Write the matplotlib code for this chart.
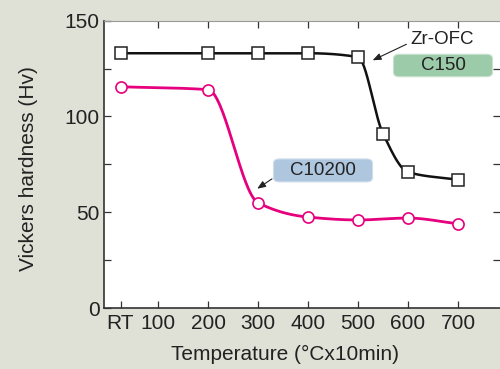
import numpy as np
import matplotlib
matplotlib.use("Agg")
import matplotlib.pyplot as plt
from matplotlib.patches import FancyBboxPatch

plt.rcParams['font.family'] = ['Liberation Sans', 'DejaVu Sans']

# data (RT taken as 25 degC)
temps = [25, 200, 300, 400, 500, 550, 600, 700]
zr_ofc = [133, 133, 133, 133, 131, 91, 71, 67]
temps_c10200 = [25, 200, 300, 400, 500, 600, 700]
c10200 = [115.5, 114, 55, 47.5, 46, 47, 44]

xtick_vals = [25, 100, 200, 300, 400, 500, 600, 700]
xtick_labels = ["RT", "100", "200", "300", "400", "500", "600", "700"]

BG = "#dfe0d6"
PINK = "#e6007e"


def pchip(x, y, xs):
    """Monotone cubic (Fritsch-Carlson) just for drawing a smooth line."""
    x = np.asarray(x, float)
    y = np.asarray(y, float)
    h = np.diff(x)
    d = np.diff(y) / h
    m = np.zeros_like(y)
    for i in range(1, len(y) - 1):
        if d[i - 1] * d[i] > 0:
            w1 = 2 * h[i] + h[i - 1]
            w2 = h[i] + 2 * h[i - 1]
            m[i] = (w1 + w2) / (w1 / d[i - 1] + w2 / d[i])
    m[0] = d[0]
    m[-1] = d[-1]
    idx = np.clip(np.searchsorted(x, xs) - 1, 0, len(h) - 1)
    t = (xs - x[idx]) / h[idx]
    h00 = 2 * t**3 - 3 * t**2 + 1
    h10 = t**3 - 2 * t**2 + t
    h01 = -2 * t**3 + 3 * t**2
    h11 = t**3 - t**2
    return h00 * y[idx] + h10 * h[idx] * m[idx] + h01 * y[idx + 1] + h11 * h[idx] * m[idx + 1]


fig = plt.figure(figsize=(5.0, 3.69), dpi=100, facecolor=BG)
ax = fig.add_axes([0.208, 0.165, 0.792, 0.779])
ax.set_facecolor("white")

xs = np.linspace(25, 700, 400)
ax.plot(xs, pchip(temps, zr_ofc, xs), color="#111111", lw=1.8, zorder=2)
ax.plot(temps, zr_ofc, ls="none", marker="s", ms=8, mfc="white", mec="#222222", mew=1.1, zorder=3)
ax.plot(xs, pchip(temps_c10200, c10200, xs), color=PINK, lw=2.0, zorder=2)
ax.plot(temps_c10200, c10200, ls="none", marker="o", ms=8, mfc="white", mec=PINK, mew=1.2, zorder=3)

ax.set_xlim(-8, 784)
ax.set_ylim(0, 150)
ax.set_xticks(xtick_vals)
ax.set_xticklabels(xtick_labels)
ax.set_yticks([0, 50, 100, 150])
ax.set_yticks([25, 75, 125], minor=True)
ax.tick_params(axis="both", which="both", direction="in", length=5, width=0.9,
               color="#333333", labelsize=15, labelcolor="#222222", pad=3)
ax.tick_params(axis="x", pad=4)

# extra ticks on top and right, no labels
top = ax.secondary_xaxis("top")
top.set_xticks([100, 200, 300, 400, 500, 600, 700])
top.tick_params(direction="in", length=5, width=0.9, color="#333333", labeltop=False)
top.spines["top"].set_visible(False)
right = ax.secondary_yaxis("right")
right.set_yticks([25, 50, 75, 100, 125])
right.tick_params(direction="in", length=5, width=0.9, color="#333333", labelright=False)
right.spines["right"].set_visible(False)

ax.spines["left"].set_color("#333333")
ax.spines["bottom"].set_color("#333333")
ax.spines["left"].set_linewidth(1.2)
ax.spines["bottom"].set_linewidth(1.2)
ax.spines["top"].set_color("#999999")
ax.spines["top"].set_linewidth(0.8)
ax.spines["right"].set_visible(False)

fig.text(0.058, 0.542, "Vickers hardness (Hv)", fontsize=15, color="#222222",
         rotation=90, ha="center", va="center")
fig.text(0.57, 0.040, "Temperature (\u00b0Cx10min)", fontsize=15, color="#222222", ha="center", va="center")

# labels
ax.text(0.854, 0.933, "Zr-OFC", transform=ax.transAxes, fontsize=13.5, color="#222222",
        ha="center", va="center")
ax.annotate("", xy=(0.672, 0.858), xytext=(0.770, 0.922), xycoords="axes fraction",
            arrowprops=dict(arrowstyle="-|>,head_length=0.5,head_width=0.2", color="#222222", lw=0.8))

box1 = FancyBboxPatch((0.736, 0.810), 0.24, 0.068, boxstyle="round,pad=0.005,rounding_size=0.015",
                      transform=ax.transAxes, facecolor="#9ccba9", edgecolor="#c8e2cf", lw=0.8, zorder=4)
ax.add_patch(box1)
ax.text(0.856, 0.845, "C150", transform=ax.transAxes, fontsize=13.5, color="#222222",
        ha="center", va="center", zorder=5)

box2 = FancyBboxPatch((0.433, 0.444), 0.24, 0.070, boxstyle="round,pad=0.005,rounding_size=0.015",
                      transform=ax.transAxes, facecolor="#afc6df", edgecolor="#d0deec", lw=0.8, zorder=4)
ax.add_patch(box2)
ax.text(0.553, 0.480, "C10200", transform=ax.transAxes, fontsize=13.5, color="#222222",
        ha="center", va="center", zorder=5)
ax.annotate("", xy=(0.381, 0.410), xytext=(0.430, 0.455), xycoords="axes fraction",
            arrowprops=dict(arrowstyle="-|>,head_length=0.5,head_width=0.2", color="#222222", lw=0.8))

fig.savefig("out.png", dpi=100, facecolor=BG)
